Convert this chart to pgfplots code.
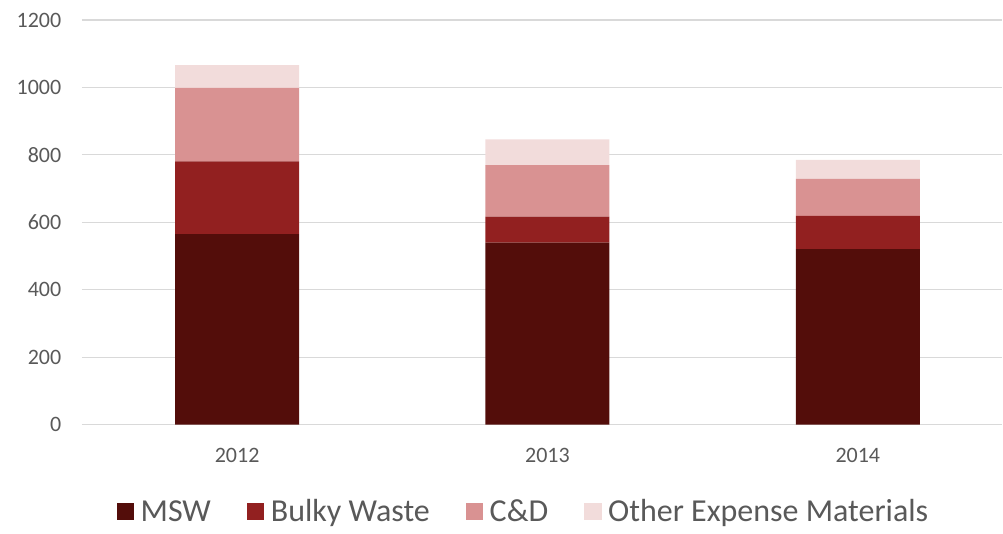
\documentclass[border=0pt]{standalone}
\usepackage{pgfplots}
\pgfplotsset{compat=1.18}
\usepackage{fontspec}
\setmainfont{Carlito}
\definecolor{msw}{HTML}{530D0A}
\definecolor{bulky}{HTML}{922020}
\definecolor{cd}{HTML}{D99292}
\definecolor{other}{HTML}{F2DCDB}
\definecolor{txt}{HTML}{595959}
\definecolor{grid}{HTML}{D9D9D9}
\begin{document}
\begin{tikzpicture}
\begin{axis}[
  at={(0,0)}, anchor=south west,
  scale only axis,
  width=690.75pt, height=303.75pt,
  ybar stacked, bar width=93pt,
  xmin=-0.5, xmax=2.466,
  ymin=0, ymax=1200,
  ytick={0,200,...,1200},
  xtick={0,1,2}, xticklabels={2012,2013,2014},
  axis line style={draw=none},
  ymajorgrids, grid style={color=grid, line width=0.9pt},
  major tick length=0pt,
  /pgf/number format/assume math mode=true,
  /pgf/number format/1000 sep={},
  tick label style={font=\fontsize{16.5}{19}\selectfont, text=txt},
  yticklabel style={xshift=-12pt},
  xticklabel style={yshift=-14pt},
  legend columns=4,
  legend style={draw=none, at={(0.48,-0.215)}, anchor=center,
    font=\fontsize{24}{28}\selectfont, text=txt,
    /tikz/every odd column/.append style={column sep=3pt},
    /tikz/every even column/.append style={column sep=25pt}},
  legend image code/.code={\fill[#1] (0pt,-6.5pt) rectangle (13pt,6.5pt);},
]
\addplot[fill=msw, draw=none] coordinates {(0,565) (1,540) (2,521)};
\addplot[fill=bulky, draw=none] coordinates {(0,216) (1,77) (2,98)};
\addplot[fill=cd, draw=none] coordinates {(0,218) (1,153) (2,110)};
\addplot[fill=other, draw=none] coordinates {(0,67) (1,76) (2,56)};
\legend{MSW, Bulky Waste, C\&D, Other Expense Materials}
\end{axis}
\path[use as bounding box] (-61.5pt,-81.75pt) rectangle (690.75pt,318.75pt);
\end{tikzpicture}
\end{document}
